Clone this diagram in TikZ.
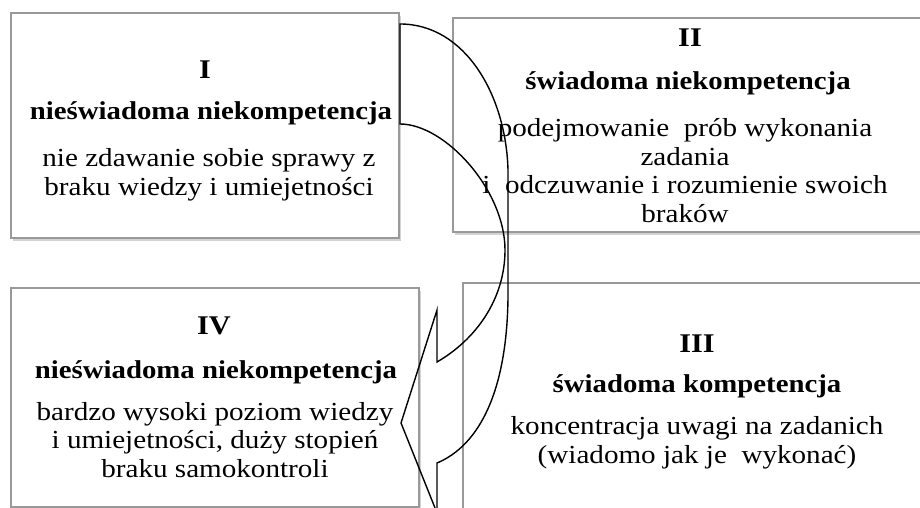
\documentclass[tikz,border=0pt]{standalone}
\usepackage{fontspec}
\setmainfont{Liberation Serif}[FakeStretch=1.12]
\usetikzlibrary{shadows}

\tikzset{
  quadrant/.style={draw=gray!80, line width=1.1pt, fill=white, inner sep=0pt,
    drop shadow={shadow xshift=2pt, shadow yshift=-3pt, opacity=0.35, fill=gray}},
  numeral/.style={anchor=base, inner sep=0pt, font=\fontsize{27}{30}\selectfont\bfseries},
  phase/.style={anchor=base, inner sep=0pt, font=\fontsize{25.7}{28}\selectfont\bfseries},
  remark/.style={anchor=base, inner sep=0pt, align=center, font=\fontsize{26}{28.5}\selectfont},
  twist/.style={draw=black, line width=1.4pt, line join=miter}
}

\begin{document}
\begin{tikzpicture}[x=1pt, y=-1pt]
        \useasboundingbox (0,0) rectangle (920,508);
        \clip (0,0) rectangle (920,508);

        % the four quadrants
        \node[quadrant, minimum width=388pt, minimum height=225pt] (q1) at (205,125.5) {};
        \node[quadrant, minimum width=482pt, minimum height=214pt] (q2) at (694,125) {};
        \node[quadrant, minimum width=472pt, minimum height=257pt] (q3) at (699,411.5) {};
        \node[quadrant, minimum width=408pt, minimum height=219pt] (q4) at (215,397.5) {};

        % I  (remark nodes sit on the baseline of their last line)
        \node[numeral] (n1) at (205,79) {I};
        \node[phase] (h1) at (211,120) {nieświadoma niekompetencja};
        \node[remark] (r1) at (209,195) {nie zdawanie sobie sprawy z\\braku wiedzy i umiejetności};

        % II
        \node[numeral] (n2) at (690,47) {II};
        \node[phase] (h2) at (688,90) {świadoma niekompetencja};
        \node[remark] (r2) at (685,222) {podejmowanie~ prób wykonania\\zadania\\i~ odczuwanie i rozumienie swoich\\braków};

        % III
        \node[numeral] (n3) at (697,352) {III};
        \node[phase] (h3) at (697,392) {świadoma kompetencja};
        \node[remark] (r3) at (697,463) {koncentracja uwagi na zadanich\\(wiadomo jak je~ wykonać)};

        % IV
        \node[numeral] (n4) at (214,334) {IV};
        \node[phase] (h4) at (216,378) {nieświadoma niekompetencja};
        \node[remark] (r4) at (215,477) {bardzo wysoki poziom wiedzy\\i umiejetności, duży stopień\\braku samokontroli};

        % twisted curved arrow from I down to IV
        \coordinate (top) at (400,24);
        \coordinate (bot) at (400,124);
        \coordinate (tip) at (401,423);
        \coordinate (barbup) at (437,310);
        \coordinate (barblo) at (437,513);
        \coordinate (jointup) at (437,362);
        \coordinate (jointlo) at (437,463);

        \draw[twist] (top) .. controls (465,24) and (506,95) .. (508,170)
          -- (508,297) .. controls (507,390) and (480,445) .. (jointlo)
          -- (barblo) -- (tip) -- (barbup) -- (jointup)
          .. controls (475,340) and (505,300) .. (505,250)
          .. controls (505,190) and (445,124) .. (bot) -- cycle;
\end{tikzpicture}
\end{document}
